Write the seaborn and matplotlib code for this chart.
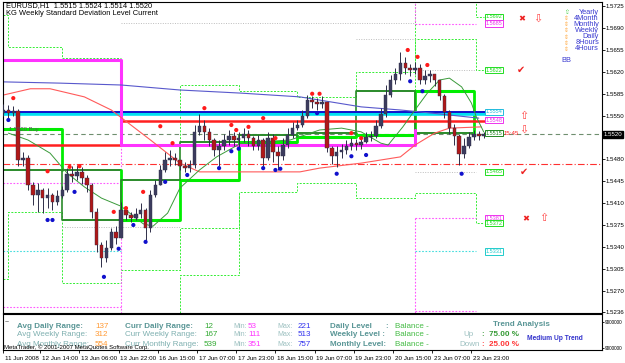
import matplotlib
matplotlib.use("Agg")
import matplotlib.pyplot as plt
import matplotlib.transforms as mtransforms
import numpy as np
import pandas as pd
import seaborn as sns

sns.set_theme(style="white")
plt.rcParams['font.family'] = ['Liberation Sans', 'DejaVu Sans']

W, H = 625, 363

# ---------------- data ----------------
bar_hour = list(range(0, 197, 2))
first_open = 1.5555
bar_close = [1.5559, 1.5554, 1.5557, 1.5479, 1.5482, 1.5439, 1.5423, 1.5431, 1.5418, 1.5423,
             1.5412, 1.5421, 1.5431, 1.5457, 1.5453, 1.5460, 1.5450, 1.5439, 1.5396, 1.5343,
             1.5322, 1.5338, 1.5364, 1.5354, 1.5399, 1.5391, 1.5386, 1.5393, 1.5399, 1.5370,
             1.5423, 1.5439, 1.5463, 1.5479, 1.5482, 1.5479, 1.5469, 1.5466, 1.5471, 1.5524,
             1.5533, 1.5524, 1.5511, 1.5495, 1.5501, 1.5511, 1.5517, 1.5511, 1.5514, 1.5521,
             1.5514, 1.5501, 1.5511, 1.5482, 1.5514, 1.5492, 1.5485, 1.5503, 1.5519, 1.5530,
             1.5535, 1.5549, 1.5575, 1.5572, 1.5569, 1.5572, 1.5498, 1.5485, 1.5492, 1.5495,
             1.5501, 1.5506, 1.5503, 1.5508, 1.5516, 1.5517, 1.5533, 1.5553, 1.5583, 1.5607,
             1.5617, 1.5634, 1.5626, 1.5623, 1.5626, 1.5607, 1.5613, 1.5617, 1.5607, 1.5581,
             1.5556, 1.5530, 1.5517, 1.5489, 1.5501, 1.5516, 1.5521, 1.5517, 1.5520]
bar_high = [1.5569, 1.5567, 1.5565, 1.5560, 1.5492, 1.5487, 1.5444, 1.5442, 1.5434, 1.5434,
            1.5426, 1.5431, 1.5437, 1.5466, 1.5469, 1.5471, 1.5468, 1.5455, 1.5442, 1.5402,
            1.5348, 1.5351, 1.5370, 1.5373, 1.5412, 1.5404, 1.5396, 1.5402, 1.5410, 1.5402,
            1.5431, 1.5447, 1.5471, 1.5492, 1.5495, 1.5490, 1.5479, 1.5476, 1.5479, 1.5535,
            1.5553, 1.5543, 1.5530, 1.5514, 1.5511, 1.5521, 1.5527, 1.5524, 1.5524, 1.5530,
            1.5527, 1.5517, 1.5519, 1.5514, 1.5524, 1.5521, 1.5501, 1.5514, 1.5530, 1.5540,
            1.5543, 1.5559, 1.5583, 1.5581, 1.5578, 1.5581, 1.5572, 1.5501, 1.5501, 1.5505,
            1.5511, 1.5514, 1.5513, 1.5514, 1.5524, 1.5525, 1.5543, 1.5562, 1.5599, 1.5615,
            1.5626, 1.5652, 1.5644, 1.5633, 1.5636, 1.5633, 1.5623, 1.5623, 1.5617, 1.5607,
            1.5585, 1.5559, 1.5537, 1.5521, 1.5514, 1.5524, 1.5527, 1.5525, 1.5524]
bar_low = [1.5549, 1.5546, 1.5549, 1.5469, 1.5469, 1.5431, 1.5407, 1.5396, 1.5394, 1.5402,
           1.5399, 1.5407, 1.5418, 1.5428, 1.5444, 1.5447, 1.5441, 1.5428, 1.5386, 1.5332,
           1.5308, 1.5316, 1.5335, 1.5345, 1.5357, 1.5383, 1.5380, 1.5383, 1.5386, 1.5348,
           1.5364, 1.5420, 1.5447, 1.5460, 1.5469, 1.5471, 1.5463, 1.5460, 1.5460, 1.5466,
           1.5519, 1.5511, 1.5501, 1.5485, 1.5469, 1.5495, 1.5503, 1.5501, 1.5498, 1.5508,
           1.5501, 1.5495, 1.5495, 1.5469, 1.5479, 1.5476, 1.5463, 1.5479, 1.5498, 1.5514,
           1.5527, 1.5532, 1.5546, 1.5562, 1.5559, 1.5562, 1.5492, 1.5473, 1.5468, 1.5482,
           1.5489, 1.5495, 1.5495, 1.5497, 1.5506, 1.5509, 1.5514, 1.5530, 1.5548, 1.5580,
           1.5601, 1.5607, 1.5617, 1.5613, 1.5617, 1.5601, 1.5601, 1.5604, 1.5597, 1.5575,
           1.5546, 1.5521, 1.5503, 1.5471, 1.5482, 1.5498, 1.5511, 1.5511, 1.5514]

res_h = [4, 18, 27, 31, 45, 50, 57, 64, 69, 82, 93, 95, 100, 106, 111, 126, 129, 142, 146, 165, 169, 173]
res_p = [1.5578, 1.5461, 1.5468, 1.5469, 1.5396, 1.5402, 1.5428, 1.5533, 1.5506, 1.5562, 1.5535,
         1.5527, 1.5532, 1.5546, 1.5514, 1.5585, 1.5585, 1.5522, 1.5514, 1.5655, 1.5644, 1.5631]
sup_h = [2, 18, 20, 29, 41, 47, 53, 58, 66, 75, 88, 93, 96, 106, 111, 113, 128, 136, 142, 148, 166, 171, 187]
sup_p = [1.5543, 1.5383, 1.5383, 1.5428, 1.5292, 1.5337, 1.5375, 1.5348, 1.5444, 1.5455, 1.5466,
         1.5493, 1.5497, 1.5466, 1.5463, 1.5465, 1.5554, 1.5457, 1.5485, 1.5487, 1.5605, 1.5589, 1.5457]

ma_blue_h = [0, 23, 48, 72, 97, 121, 146, 162, 170, 194]
ma_blue_p = [1.5604, 1.5602, 1.5599, 1.5591, 1.5586, 1.5580, 1.5564, 1.5559, 1.5556, 1.5546]
ma_red_h = [0, 11, 19, 33, 44, 52, 60, 72, 80, 101, 121, 129, 146, 162, 168, 176, 182, 195]
ma_red_p = [1.5583, 1.5593, 1.5593, 1.5580, 1.5559, 1.5535, 1.5511, 1.5474, 1.5460, 1.5460,
            1.5460, 1.5466, 1.5474, 1.5484, 1.5503, 1.5522, 1.5530, 1.5532]
ma_green_h = [2, 10, 19, 26, 33, 40, 48, 57, 61, 67, 72, 80, 87, 97, 117, 129, 138, 146, 154,
              157, 163, 167, 173, 178, 182, 187, 191, 193, 196]
ma_green_p = [1.5522, 1.5511, 1.5490, 1.5458, 1.5436, 1.5418, 1.5405, 1.5377, 1.5373, 1.5394,
              1.5434, 1.5463, 1.5484, 1.5506, 1.5511, 1.5527, 1.5530, 1.5524, 1.5506, 1.5503,
              1.5532, 1.5554, 1.5586, 1.5607, 1.5610, 1.5596, 1.5570, 1.5548, 1.5524]

blue_level, cyan_level = 1.5556, 1.5552
red_level_h = [0, 48, 48, 197]
red_level_p = [1.5503, 1.5503, 1.5541, 1.5541]
mag_level_h = [0, 48, 48, 168, 168]
mag_level_p = [1.5639, 1.5639, 1.5503, 1.5503, 1.5527]
bid_price = 1.5520
pivot_price = 1.5473

day_start = [0, 24, 48, 72, 96, 120, 144, 168]
day_end = [24, 48, 72, 96, 120, 144, 168, 192]
box_top = [1.5528, 1.5463, 1.5447, 1.5508, 1.5519, 1.5522, 1.5589, 1.5589]
box_bottom = [1.5463, 1.5383, 1.5383, 1.5447, 1.5508, 1.5516, 1.5519, 1.5522]
top_bright = [1, 0, 0, 0, 0, 0, 0, 1]
bottom_bright = [0, 0, 1, 1, 1, 1, 1, 0]

up1_h = [0, 2, 24, 48]
up1_p = [1.5711, 1.5660, 1.5642, 1.5642]
up2_h = [72, 72, 96, 120, 144, 168, 193, 196]
up2_p = [1.5508, 1.5599, 1.5589, 1.5580, 1.5620, 1.5673, 1.5623, 1.5623]
lo_h = [0, 2, 24, 48, 72, 96, 120, 144, 168, 193, 196]
lo_p = [1.5289, 1.5396, 1.5282, 1.5303, 1.5370, 1.5428, 1.5442, 1.5418, 1.5426, 1.5378, 1.5378]
lo2_h = [72, 72, 96, 96]
lo2_p = [1.5234, 1.5295, 1.5295, 1.5428]
top_conn_h = [193, 193, 196]
top_conn_p = [1.5735, 1.5708, 1.5708]
week_vert_h = [168, 168]
week_vert_p = [1.5735, 1.5505]

gray_segs = [(48, 168, 1.5698), (144, 168, 1.5673), (24, 72, 1.5372), (168, 193, 1.5460), (168, 193, 1.5623)]
mag_segs = [(0, 48, 1.5442), (0, 48, 1.5244), (168, 193, 1.5697), (168, 193, 1.5386), (168, 193, 1.5238)]
mag_verts = [(48, 1.5503, 1.5234), (168, 1.5735, 1.5697), (168, 1.5386, 1.5234)]
cyan_segs = [(0, 48, 1.5333), (168, 193, 1.5333)]

label_text = ["1.5692", "1.5685", "1.5622", "1.5554", "1.5548", "1.5515", "1.5465", "1.5381", "1.5372", "1.5331"]
label_price = [1.5708, 1.5697, 1.5623, 1.5556, 1.5543, 1.5522, 1.5460, 1.5386, 1.5378, 1.5333]
label_color = ["#22dd22", "#ee33ee", "#22dd22", "#22bbdd", "#ee33ee", "#228822", "#22dd22", "#ee33ee", "#22dd22", "#22cccc"]

xtick_pos = [0, 15, 31, 47, 63, 79, 95, 111, 127, 143, 159, 175, 191]
xtick_lab = ["11 Jun 2008", "12 Jun 14:00", "13 Jun 06:00", "13 Jun 22:00", "16 Jun 15:00",
             "17 Jun 07:00", "17 Jun 23:00", "18 Jun 15:00", "19 Jun 07:00", "19 Jun 23:00",
             "20 Jun 15:00", "23 Jun 07:00", "23 Jun 23:00"]
ytick_pos = [1.5725, 1.5690, 1.5655, 1.5620, 1.5585, 1.5550, 1.5480, 1.5445, 1.5410,
             1.5375, 1.5340, 1.5305, 1.5270, 1.5236]

# ---------------- figure ----------------
fig = plt.figure(figsize=(W / 100, H / 100), dpi=100)
fig.patch.set_facecolor("white")

def P(x, y):
    return x / W, 1 - y / H

XMIN = -0.2
XMAX = XMIN + 599 / 2.45
ax = fig.add_axes([3 / W, (H - 313) / H, 599 / W, 311 / H])
ax.set_facecolor("white")
ax.set_xlim(XMIN, XMAX)
ax.set_ylim(1.5735 - 0.00016 * 313, 1.5735 - 0.00016 * 2)

# dotted / dashed step lines
gd = dict(color="#33ee33", lw=0.7, ls=(0, (2, 1.5)))
ax.plot(up1_h, up1_p, drawstyle="steps-post", **gd)
ax.plot(up2_h, up2_p, drawstyle="steps-post", **gd)
ax.plot(lo_h, lo_p, drawstyle="steps-post", **gd)
ax.plot(lo2_h, lo2_p, **gd)
ax.plot(top_conn_h, top_conn_p, **gd)
ax.plot(week_vert_h, week_vert_p, **gd)
for h0, h1, p in gray_segs:
    ax.plot([h0, h1], [p, p], color="#bdbdbd", lw=0.7, ls=(0, (1, 1.5)))
for h0, h1, p in mag_segs:
    ax.plot([h0, h1], [p, p], color="#ff55ff", lw=0.8, ls=(0, (1.5, 1.5)))
for h, p0, p1 in mag_verts:
    ax.plot([h, h], [p0, p1], color="#ff55ff", lw=0.8, ls=(0, (1.5, 1.5)))
for h0, h1, p in cyan_segs:
    ax.plot([h0, h1], [p, p], color="#44dddd", lw=0.8, ls=(0, (1.5, 1.5)))

# full-width level lines
ax.axhline(bid_price, color="#6f8f6f", lw=0.8, ls=(0, (4, 3)))
ax.axhline(pivot_price, color="#ff3030", lw=0.8, ls=(0, (6, 2, 1, 2)))

# daily range boxes
BR, DK = "#00ee00", "#2a8a2a"
for d0, d1, t, b, tb, bb in zip(day_start, day_end, box_top, box_bottom, top_bright, bottom_bright):
    ax.plot([d0, d1], [t, t], color=BR if tb else DK, lw=2.2 if tb else 1.4, solid_capstyle="butt")
    ax.plot([d0, d1], [b, b], color=BR if bb else DK, lw=2.2 if bb else 1.4, solid_capstyle="butt")
    ax.plot([d1, d1], [b, t], color=BR, lw=2.0)
    ax.plot([d0, d0], [b, t], color=DK, lw=1.2)

# weekly / level lines
ax.plot([0, 197], [cyan_level, cyan_level], color="#00e0f0", lw=2.6)
ax.plot([0, 197], [blue_level, blue_level], color="#1010cc", lw=1.4)
ax.plot(red_level_h, red_level_p, color="#ff2020", lw=1.8)
ax.plot(mag_level_h, mag_level_p, color="#ff33ff", lw=2.2)

# moving averages
sns.lineplot(x=ma_blue_h, y=ma_blue_p, ax=ax, color="#5858cc", lw=0.8, sort=False, estimator=None)
sns.lineplot(x=ma_red_h, y=ma_red_p, ax=ax, color="#ff5a5a", lw=0.8, sort=False, estimator=None)
sns.lineplot(x=ma_green_h, y=ma_green_p, ax=ax, color="#3a9a3a", lw=0.7, sort=False, estimator=None)

# candles
bars = pd.DataFrame({"h": bar_hour, "close": bar_close, "high": bar_high, "low": bar_low})
bars["open"] = [first_open] + bar_close[:-1]
up = bars["close"] >= bars["open"]
lo = np.minimum(bars["low"], np.minimum(bars["open"], bars["close"]))
hi = np.maximum(bars["high"], np.maximum(bars["open"], bars["close"]))
ax.vlines(bars["h"], lo, hi, color="#2e2e48", lw=0.7, zorder=4)
body = np.maximum((bars["close"] - bars["open"]).abs(), 0.00006)
ax.bar(bars["h"], body, bottom=np.minimum(bars["open"], bars["close"]), width=1.4,
       color=np.where(up, "#3c3c5e", "#b01818"), edgecolor="#2e2e48", linewidth=0.3, zorder=5)

# fractal dots
sns.scatterplot(x=res_h, y=res_p, ax=ax, color="#ff1a1a", s=9, edgecolor="none", zorder=6)
sns.scatterplot(x=sup_h, y=sup_p, ax=ax, color="#1010cc", s=9, edgecolor="none", zorder=6)

# right-hand level labels
for t, p, c in zip(label_text, label_price, label_color):
    ax.text(200.2, p, t, fontsize=4.0, ha="center", va="center", color=c, zorder=7,
            bbox=dict(boxstyle="square,pad=0.15", fc="white", ec=c, lw=0.7))
ax.text(204.3, 1.5521, "15:45", fontsize=4.4, color="#ff2020", ha="left", va="center", zorder=8)
ax.text(2.2, 1.5527, "1.5520 Buy", fontsize=4.2, color="#555555", ha="left", va="center", zorder=8)

# signal symbols
sym = dict(ha="center", va="center", family=["DejaVu Sans"], zorder=8)
ax.text(211.6, 1.5705, "\u2716", color="#ee2222", fontsize=6, **sym)
ax.text(218.2, 1.5705, "\u21e9", color="#ff4444", fontsize=8, **sym)
ax.text(211.0, 1.5623, "\u2714", color="#ee2222", fontsize=7, **sym)
ax.text(212.5, 1.5549, "\u21e7", color="#ff4444", fontsize=8, **sym)
ax.text(212.5, 1.5528, "\u21e9", color="#ff4444", fontsize=8, **sym)
ax.text(212.5, 1.5460, "\u2714", color="#ee2222", fontsize=7, **sym)
ax.text(213.2, 1.5385, "\u2716", color="#ee2222", fontsize=6, **sym)
ax.text(220.6, 1.5386, "\u21e7", color="#ff4444", fontsize=8, **sym)

# axes styling
ax.yaxis.tick_right()
ax.set_yticks(ytick_pos)
ax.set_yticklabels([f"{v:.4f}" for v in ytick_pos])
ax.tick_params(axis="y", labelsize=4.4, length=2, width=0.6, pad=0.8, colors="black", right=True)
ax.set_xticks([])
ax.set_xlabel("")
ax.set_ylabel("")
for s in ax.spines.values():
    s.set_color("black")
    s.set_linewidth(0.8)
trans = mtransforms.blended_transform_factory(ax.transAxes, ax.transData)
ax.text(1.003, bid_price, "1.5520", transform=trans, fontsize=4.4, color="white", ha="left", va="center",
        bbox=dict(boxstyle="square,pad=0.15", fc="black", ec="black"), zorder=9, clip_on=False)

# header and legend
fig.text(*P(6, 6), "EURUSD,H1  1.5515 1.5524 1.5514 1.5520", fontsize=5.4, va="center", color="black")
fig.text(*P(6, 13.5), "KG Weekly Standard Deviation Level Current", fontsize=5.4, va="center", color="black")
leg_names = ["Yearly", "4Month", "Monthly", "Weekly", "Daily", "8Hours", "4Hours"]
leg_y = [12, 18, 24, 30, 37, 43, 49]
for i, (nm, yy) in enumerate(zip(leg_names, leg_y)):
    fig.text(*P(599, yy), nm, fontsize=5.3, color="#3b3bd0", ha="right", va="center")
    fig.text(*P(566, yy), "\u21e7" if i == 0 else "\u21d5", fontsize=4.2,
             color="#33cc33" if i == 0 else "#ffaa44", ha="center", va="center", family=["DejaVu Sans"])
fig.text(*P(566, 61), "BB", fontsize=5.3, color="#3b3bd0", ha="center", va="center")

# ---------------- sub panel ----------------
ax2 = fig.add_axes([3 / W, (H - 350) / H, 599 / W, 36 / H])
ax2.set_facecolor("white")
ax2.set_xlim(XMIN, XMAX)
ax2.set_ylim(0, 1)
ax2.set_xticks(xtick_pos)
ax2.set_xticklabels(xtick_lab, ha="left")
ax2.tick_params(axis="x", labelsize=4.5, length=2, width=0.6, pad=2, colors="black", bottom=True)
for lab in ax2.get_xticklabels():
    lab.set_transform(lab.get_transform() + mtransforms.ScaledTranslation(1.5 / 100, 0, fig.dpi_scale_trans))
ax2.yaxis.tick_right()
ax2.set_yticks([0.05, 0.78])
ax2.set_yticklabels(["9000000", "9000000"])
ax2.tick_params(axis="y", labelsize=3.4, length=1.5, width=0.6, pad=0.5, colors="black", right=True)
for s in ax2.spines.values():
    s.set_color("black")
    s.set_linewidth(0.8)

TEAL, TEAL2, LIGHT = "#5a9696", "#7fb0b0", "#9cc0c0"
FS = 5.8
fig.text(*P(5, 323), "~", fontsize=5, color="#333333", va="center")
rows_y = [326, 335, 344]
avg_names = ["Avg Daily Range:", "Avg Weekly Range:", "Avg Monthly Range:"]
avg_vals = ["137", "312", "554"]
cur_names = ["Curr Daily Range:", "Curr Weekly Range:", "Curr Monthly Range:"]
cur_vals = ["12", "167", "539"]
min_vals = ["53", "111", "351"]
max_vals = ["221", "513", "757"]
lvl_names = ["Daily Level", "Weekly Level :", "Monthly Level:"]
for i, yy in enumerate(rows_y):
    wt = "bold" if i == 0 else "normal"
    col = TEAL if i == 0 else TEAL2
    fig.text(*P(17, yy), avg_names[i], fontsize=FS, color=col, weight=wt, va="center")
    fig.text(*P(95, yy), avg_vals[i], fontsize=FS, color="#ff9933", va="center")
    fig.text(*P(125, yy), cur_names[i], fontsize=FS, color=col, weight=wt, va="center")
    fig.text(*P(204, yy), cur_vals[i], fontsize=FS, color="#33aa33", va="center")
    fig.text(*P(233, yy), "Min:", fontsize=5.0, color=LIGHT, va="center")
    fig.text(*P(248, yy), min_vals[i], fontsize=FS, color="#ff33ff", va="center")
    fig.text(*P(277, yy), "Max:", fontsize=5.0, color=LIGHT, va="center")
    fig.text(*P(298, yy), max_vals[i], fontsize=FS, color="#3333ee", va="center")
    fig.text(*P(330, yy), lvl_names[i], fontsize=FS, color=TEAL, weight="bold", va="center")
    if i == 0:
        fig.text(*P(385, yy), ":", fontsize=FS, color=TEAL, weight="bold", va="center")
    fig.text(*P(395, yy), "Balance -", fontsize=FS, color="#44bb44", va="center")
fig.text(*P(493, 324), "Trend Analysis", fontsize=FS, color=TEAL, weight="bold", va="center")
fig.text(*P(463, 335), "Up", fontsize=FS, color=LIGHT, va="center")
fig.text(*P(482, 335), ":  75.00 %", fontsize=FS, color="#339933", weight="bold", va="center")
fig.text(*P(459, 344), "Down", fontsize=FS, color=LIGHT, va="center")
fig.text(*P(482, 344), ":  25.00 %", fontsize=FS, color="#ff3333", weight="bold", va="center")
fig.text(*P(527, 339), "Medium Up Trend", fontsize=4.8, color="#3333cc", weight="bold", va="center")
fig.text(*P(4, 347), "MetaTrader, \u00a9 2001-2007 MetaQuotes Software Corp.", fontsize=4.3,
         color="black", va="center")

fig.savefig("out.png", dpi=100, facecolor="white")
